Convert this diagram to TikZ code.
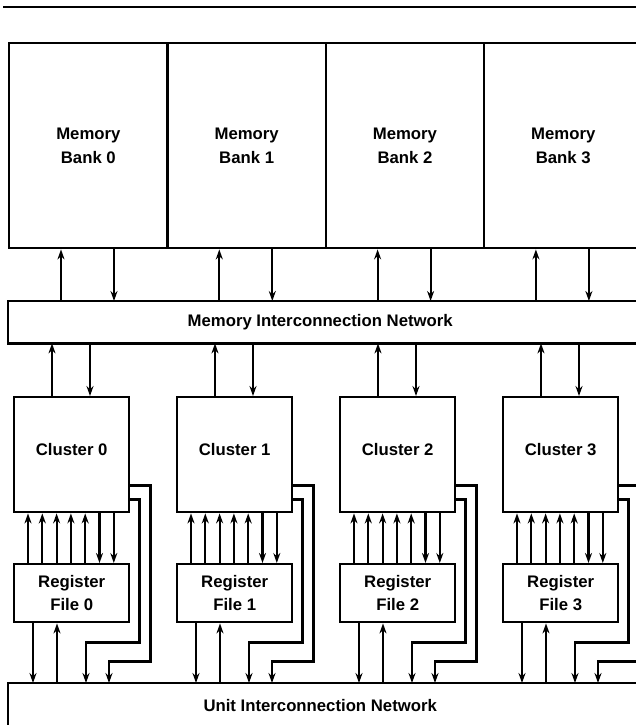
\documentclass[tikz,border=0pt]{standalone}
\usepackage{fontspec}
\setmainfont{Liberation Sans}
\usetikzlibrary{arrows.meta,positioning,calc}

\begin{document}
\begin{tikzpicture}[
      x=1bp, y=-1bp,
      font=\fontsize{16.8}{23.5}\selectfont\bfseries,
      frame/.style={draw, line width=2.4bp},
      box/.style={frame, inner sep=0pt, align=center},
      bank/.style={box, anchor=north west,
        minimum width=158.3bp, minimum height=205bp},
      net/.style={anchor=north west, inner sep=0pt,
        minimum width=624bp, minimum height=42bp},
      clus/.style={box, anchor=north west, text depth=10bp,
        minimum width=115bp, minimum height=115bp},
      regf/.style={box, anchor=north west,
        minimum width=115bp, minimum height=58bp},
      arr/.style={-{Stealth[length=10bp,width=7bp]}, line width=2.2bp},
    ]
    \useasboundingbox (0,0) rectangle (636,725);
    \clip (0,0) rectangle (636,725);

    \draw[line width=2.8bp] (3,7) -- (640,7);

    % memory banks on top, both networks run on past the right edge
    \foreach \i in {0,...,3}
      \node[bank] (mb\i) at (8+158.3*\i,42) {Memory\\Bank \i};
    \node[net] (mnet) at (8,301) {Memory Interconnection Network};
    \node[net, minimum height=44bp] (unet) at (8,683) {Unit Interconnection Network};
    \draw[frame] (mnet.north west) rectangle ([xshift=20bp]mnet.south east);
    \draw[frame] (unet.north west) rectangle ([shift={(20,10)}]unet.south east);

    \foreach \i in {0,...,3} {
      \node[clus] (cl\i) at (13+163*\i,396) {Cluster \i};
      \node[regf] (rf\i) at (13+163*\i,563) {Register\\File \i};
    }

    % bank <-> memory network
    \foreach \i in {0,...,3} {
      \coordinate (mu\i) at ($(mb\i.south west)+(53,0)$);
      \coordinate (md\i) at ($(mb\i.south west)+(106,0)$);
      \draw[arr] (mu\i |- mnet.north) -- (mu\i);
      \draw[arr] (md\i) -- (md\i |- mnet.north);
    }

    \foreach \i in {0,...,3} {
      % cluster <-> memory network
      \coordinate (cu\i) at ($(cl\i.north west)+(39,0)$);
      \coordinate (cd\i) at ($(cl\i.north west)+(77,0)$);
      \draw[arr] (cu\i) -- (cu\i |- mnet.south);
      \draw[arr] (cd\i |- mnet.south) -- (cd\i);
      % register file <-> cluster: five reads up, two writes down
      \foreach \k in {0,...,4} {
        \coordinate (bu\i\k) at ($(cl\i.south west)+(15+14.3*\k,0)$);
        \draw[arr] (bu\i\k |- rf\i.north) -- (bu\i\k);
      }
      \foreach \k in {5,6} {
        \coordinate (bd\i\k) at ($(cl\i.south west)+(15+14.3*\k,0)$);
        \draw[arr] (bd\i\k) -- (bd\i\k |- rf\i.north);
      }
      % register file <-> unit network
      \coordinate (ru\i) at ($(rf\i.south west)+(44,0)$);
      \coordinate (rd\i) at ($(rf\i.south west)+(20,0)$);
      \draw[arr] (rd\i) -- (rd\i |- unet.north);
      \draw[arr] (ru\i |- unet.north) -- (ru\i);
      % cluster results routed round the register file
      \coordinate (wi\i) at ($(rf\i.south west)+(73,0)$);
      \coordinate (wo\i) at ($(rf\i.south west)+(96,0)$);
      \draw[arr] ($(cl\i.south east)+(0,-14)$) -- ++(9,0)
        |- ($(wi\i)+(0,19)$) -- (wi\i |- unet.north);
      \draw[arr] ($(cl\i.south east)+(0,-28)$) -- ++(20,0)
        |- ($(wo\i)+(0,38)$) -- (wo\i |- unet.north);
    }
  \end{tikzpicture}
\end{document}
